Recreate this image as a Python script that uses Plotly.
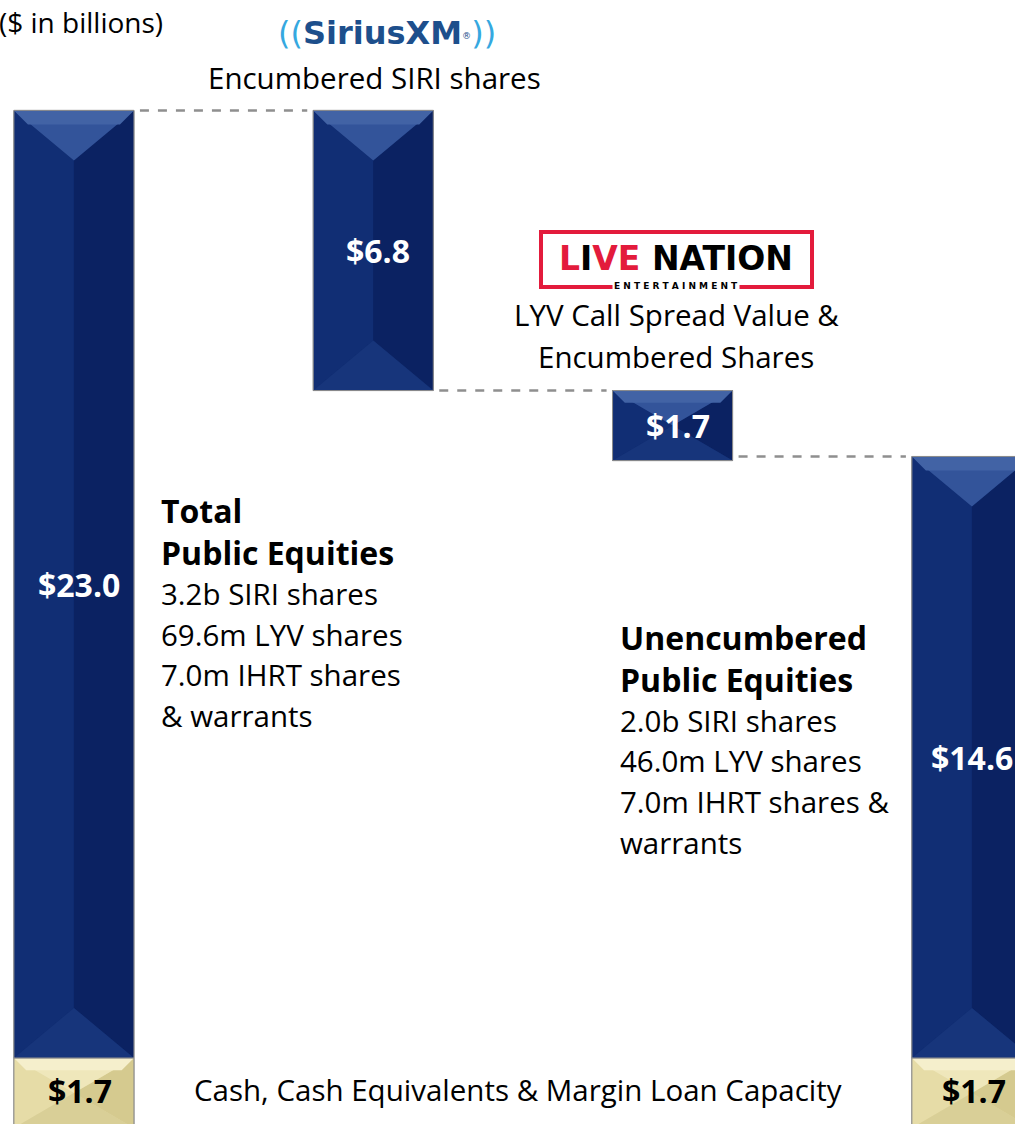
import plotly.graph_objects as go

# ---------------- data ----------------
categories = ["Total Public Equities", "Encumbered SIRI shares",
              "LYV Call Spread Value & Encumbered Shares", "Unencumbered Public Equities"]
equity_values = [23.0, 6.8, 1.7, 14.6]
cash_values = [1.7, 0.0, 0.0, 1.7]
equity_labels = ["$23.0", "$6.8", "$1.7", "$14.6"]
cash_labels = ["$1.7", "", "", "$1.7"]

# ---------------- layout constants ----------------
W, H = 1015, 1124
X_RANGE = [-0.247, 3.144]
Y_RANGE = [0.097, 27.38]
BAR_W = 0.401
FONT = "Open Sans"
REG = 29.5
BOLD = 32

xs = list(range(len(categories)))

# waterfall bases derived from the data
total_top = cash_values[0] + equity_values[0]
bases = [cash_values[0]]
level = total_top
for v in equity_values[1:3]:
    level -= v
    bases.append(level)
bases.append(cash_values[3])
tops = [b + v for b, v in zip(bases, equity_values)]

NAVY = dict(core="#0e296c", left="#112e74", right="#0b2262", top="#33549a", bottom="#17357b",
            hi="#4263a5")
GOLD = dict(core="#e0d69f", left="#e6dca7", right="#d5ca8f", top="#efe7bb", bottom="#d9cf97",
            hi="#f5efcc")

fig = go.Figure()

cash_x = [x for x, c in zip(xs, cash_values) if c > 0]
cash_y = [c for c in cash_values if c > 0]
fig.add_trace(go.Bar(x=cash_x, y=cash_y, base=[0] * len(cash_y), width=BAR_W,
                     marker=dict(color=GOLD["core"], line=dict(color="#8c8c8c", width=1)),
                     hoverinfo="skip", showlegend=False))
fig.add_trace(go.Bar(x=xs, y=equity_values, base=bases, width=BAR_W,
                     marker=dict(color=NAVY["core"], line=dict(color="#8c8c8c", width=1)),
                     hoverinfo="skip", showlegend=False))

# bevel faces (drawn over the bars in data coordinates)
pxu = W / (X_RANGE[1] - X_RANGE[0])
pyu = H / (Y_RANGE[1] - Y_RANGE[0])


def poly(pts):
    return "M " + " L ".join(f"{a},{b}" for a, b in pts) + " Z"


def bevel(xc, y0, y1, pal):
    x0, x1 = xc - BAR_W / 2, xc + BAR_W / 2
    hpx = (y1 - y0) * pyu
    dypx = min(50, hpx / 2)
    dy = dypx / pyu
    iy0, iy1 = y0 + dy, y1 - dy
    faces = [
        ("left", [(x0, y0), (x0, y1), (xc, iy1), (xc, iy0)]),
        ("right", [(x1, y0), (x1, y1), (xc, iy1), (xc, iy0)]),
        ("bottom", [(x0, y0), (x1, y0), (xc, iy0)]),
        ("top", [(x0, y1), (x1, y1), (xc, iy1)]),
    ]
    for name, pts in faces:
        fig.add_shape(type="path", path=poly(pts), xref="x", yref="y",
                      fillcolor=pal[name], line=dict(width=0), layer="above")
    # soft highlight along the top edge
    hy = min(14, dypx * 0.35) / pyu
    hx = hy * pyu / pxu
    fig.add_shape(type="path", path=poly([(x0, y1), (x1, y1), (x1 - hx, y1 - hy), (x0 + hx, y1 - hy)]),
                  xref="x", yref="y", fillcolor=pal["hi"], line=dict(width=0), layer="above")
    fig.add_shape(type="rect", x0=x0, x1=x1, y0=y0, y1=y1, xref="x", yref="y",
                  line=dict(color="#8c8c8c", width=1), fillcolor="rgba(0,0,0,0)", layer="above")


for x, c in zip(xs, cash_values):
    if c > 0:
        bevel(x, 0, c, GOLD)
for x, b, t in zip(xs, bases, tops):
    bevel(x, b, t, NAVY)

# dashed connectors
gap = 0.02
conn_levels = [tops[1], bases[1], tops[3]]
for i, lv in enumerate(conn_levels):
    fig.add_trace(go.Scatter(x=[xs[i] + BAR_W / 2 + gap, xs[i + 1] - BAR_W / 2 - gap], y=[lv, lv],
                             mode="lines", line=dict(color="#8f8f8f", width=2.5, dash="dash"),
                             hoverinfo="skip", showlegend=False))

# value labels (the last column sits at the page edge, so it is not nudged)
for x, b, t, lab in zip(xs, bases, tops, equity_labels):
    fig.add_annotation(x=x, y=(b + t) / 2, xref="x", yref="y", text=f"<b>{lab}</b>",
                       xshift=5 if x < xs[-1] else 0,
                       showarrow=False, font=dict(family=FONT, size=BOLD, color="white"))
for x, c, lab in zip(xs, cash_values, cash_labels):
    if c > 0:
        fig.add_annotation(x=x, y=c / 2, xref="x", yref="y", text=f"<b>{lab}</b>",
                           xshift=6 if x < xs[-1] else 2, yshift=2,
                           showarrow=False, font=dict(family=FONT, size=BOLD, color="black"))


def px(xp, yp, text, size=REG, anchor="center", color="black", family=FONT, bg=None):
    kw = {}
    if bg:
        kw["bgcolor"] = bg
    fig.add_annotation(x=xp / W, y=1 - yp / H, xref="paper", yref="paper", text=text,
                       showarrow=False, xanchor=anchor, yanchor="middle",
                       font=dict(family=family, size=size, color=color), **kw)


px(-3, 22, "($ in billions)", size=28, anchor="left")
px(374, 78, "Encumbered SIRI shares")
px(676, 315, "LYV Call Spread Value &")
px(676, 356, "Encumbered Shares")

# SiriusXM wordmark
px(387, 33, "<span style='color:#35a8e0'>((</span>"
            "<b>SiriusXM</b><span style='font-size:13px'><sup>®</sup></span>"
            "<span style='color:#35a8e0'>))</span>",
   size=32, color="#1d4f8c", family="DejaVu Sans")

# Live Nation wordmark
fig.add_shape(type="rect", xref="paper", yref="paper", x0=541 / W, x1=812 / W,
              y0=1 - 287 / H, y1=1 - 232 / H, line=dict(color="#e31b3c", width=4),
              fillcolor="white", layer="above")
px(676, 258, "<b><span style='color:#e31b3c'>L</span>I<span style='color:#e31b3c'>VE</span> NATION</b>",
   size=33, family="DejaVu Sans")
px(676, 286, "<b>E N T E R T A I N M E N T</b>", size=9, family="DejaVu Sans", bg="white")

left_lines = [("<b>Total</b>", 510, BOLD), ("<b>Public Equities</b>", 552, BOLD), ("3.2b SIRI shares", 593, REG),
              ("69.6m LYV shares", 634, REG), ("7.0m IHRT shares", 674, REG), ("& warrants", 715, REG)]
for t, y, s in left_lines:
    px(159, y, t, size=s, anchor="left")
right_lines = [("<b>Unencumbered</b>", 637, BOLD), ("<b>Public Equities</b>", 679, BOLD), ("2.0b SIRI shares", 720, REG),
               ("46.0m LYV shares", 760, REG), ("7.0m IHRT shares &", 801, REG), ("warrants", 842, REG)]
for t, y, s in right_lines:
    px(618, y, t, size=s, anchor="left")

px(518, 1089, "Cash, Cash Equivalents & Margin Loan Capacity")

fig.update_layout(
    width=W, height=H, margin=dict(l=0, r=0, t=0, b=0),
    paper_bgcolor="white", plot_bgcolor="white", barmode="overlay",
    xaxis=dict(range=X_RANGE, visible=False, fixedrange=True),
    yaxis=dict(range=Y_RANGE, visible=False, fixedrange=True),
)

fig.write_html("out.html", config={"displayModeBar": False},
               post_script="document.body.style.margin='0';")
